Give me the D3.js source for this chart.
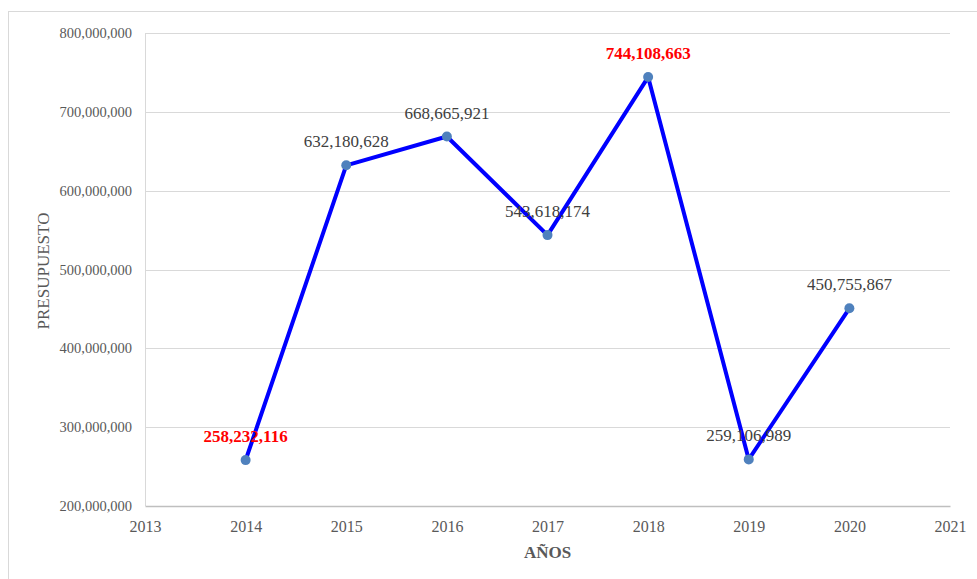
<!DOCTYPE html>
<html>
<head>
<meta charset="utf-8">
<script src="https://cdn.jsdelivr.net/npm/d3@7"></script>
<style>
  body { margin: 0; background: #fff; }
  svg { display: block; }
</style>
</head>
<body>
<script>
// data
const years = [2014, 2015, 2016, 2017, 2018, 2019, 2020];
const budget = [258232116, 632180628, 668665921, 543618174, 744108663, 259106989, 450755867];
const highlighted = [2014, 2018]; // labels drawn red / bold
const yTicks = [200000000, 300000000, 400000000, 500000000, 600000000, 700000000, 800000000];
const xTicks = [2013, 2014, 2015, 2016, 2017, 2018, 2019, 2020, 2021];

const w = 977, h = 579;
const margin = {left: 145, right: 27, top: 33, bottom: 73};

const data = years.map((y, i) => ({year: y, value: budget[i]}));

const svg = d3.select('body').append('svg')
  .attr('width', w)
  .attr('height', h)
  .style('font-family', '"Liberation Serif", "Times New Roman", serif');

// chart frame
svg.append('rect')
  .attr('x', 8.5).attr('y', 11.5)
  .attr('width', w).attr('height', h)
  .attr('fill', 'none')
  .attr('stroke', '#d9d9d9');

const xScale = d3.scaleLinear()
  .domain([2013, 2021])
  .range([margin.left, w - margin.right]);

const yScale = d3.scaleLinear()
  .domain([200000000, 800000000])
  .range([h - margin.bottom, margin.top]);

// grid lines
svg.append('g')
  .selectAll('line')
  .data(yTicks.slice(1))
  .enter().append('line')
  .attr('x1', xScale(2013)).attr('x2', xScale(2021))
  .attr('y1', d => Math.round(yScale(d)) + 0.5)
  .attr('y2', d => Math.round(yScale(d)) + 0.5)
  .attr('stroke', '#d9d9d9');

// left axis line
svg.append('line')
  .attr('x1', xScale(2013) + 0.5).attr('x2', xScale(2013) + 0.5)
  .attr('y1', yScale(800000000)).attr('y2', yScale(200000000))
  .attr('stroke', '#d9d9d9');

const fmt = d3.format(',');

const yAxis = d3.axisLeft(yScale)
  .tickValues(yTicks)
  .tickFormat(fmt)
  .tickSize(0)
  .tickPadding(13);

const gy = svg.append('g')
  .attr('transform', 'translate(' + xScale(2013) + ',0)')
  .call(yAxis);
gy.select('.domain').remove();
gy.selectAll('text')
  .style('font-family', '"Liberation Serif", "Times New Roman", serif')
  .style('font-size', '14.5px')
  .attr('fill', '#595959');

const xAxis = d3.axisBottom(xScale)
  .tickValues(xTicks)
  .tickFormat(d3.format('d'))
  .tickSize(0)
  .tickPadding(15);

const gx = svg.append('g')
  .attr('transform', 'translate(0,' + yScale(200000000) + ')')
  .call(xAxis);
gx.select('.domain')
  .attr('stroke', '#bfbfbf')
  .attr('stroke-width', 1.5);
gx.selectAll('text')
  .style('font-family', '"Liberation Serif", "Times New Roman", serif')
  .style('font-size', '16px')
  .attr('fill', '#595959');

// axis titles
svg.append('text')
  .attr('x', (xScale(2013) + xScale(2021)) / 2)
  .attr('y', 558)
  .attr('text-anchor', 'middle')
  .style('font-size', '17px')
  .style('font-weight', 'bold')
  .attr('fill', '#595959')
  .text('AÑOS');

svg.append('text')
  .attr('transform', 'translate(49,' + 271 + ') rotate(-90)')
  .attr('text-anchor', 'middle')
  .style('font-size', '17px')
  .attr('fill', '#595959')
  .text('PRESUPUESTO');

// series line
const line = d3.line()
  .x(d => xScale(d.year))
  .y(d => yScale(d.value));

svg.append('path')
  .datum(data)
  .attr('d', line)
  .attr('fill', 'none')
  .attr('stroke', '#0000ff')
  .attr('stroke-width', 4)
  .attr('stroke-linejoin', 'round');

svg.selectAll('.dot')
  .data(data)
  .enter().append('circle')
  .attr('class', 'dot')
  .attr('cx', d => xScale(d.year))
  .attr('cy', d => yScale(d.value))
  .attr('r', 5)
  .attr('fill', '#4f81bd');

// data labels
svg.selectAll('.lbl')
  .data(data)
  .enter().append('text')
  .attr('class', 'lbl')
  .attr('x', d => xScale(d.year))
  .attr('y', d => yScale(d.value) - 18)
  .attr('text-anchor', 'middle')
  .style('font-size', '17px')
  .style('font-weight', d => highlighted.includes(d.year) ? 'bold' : 'normal')
  .attr('fill', d => highlighted.includes(d.year) ? '#ff0000' : '#404040')
  .text(d => fmt(d.value));
</script>
</body>
</html>
